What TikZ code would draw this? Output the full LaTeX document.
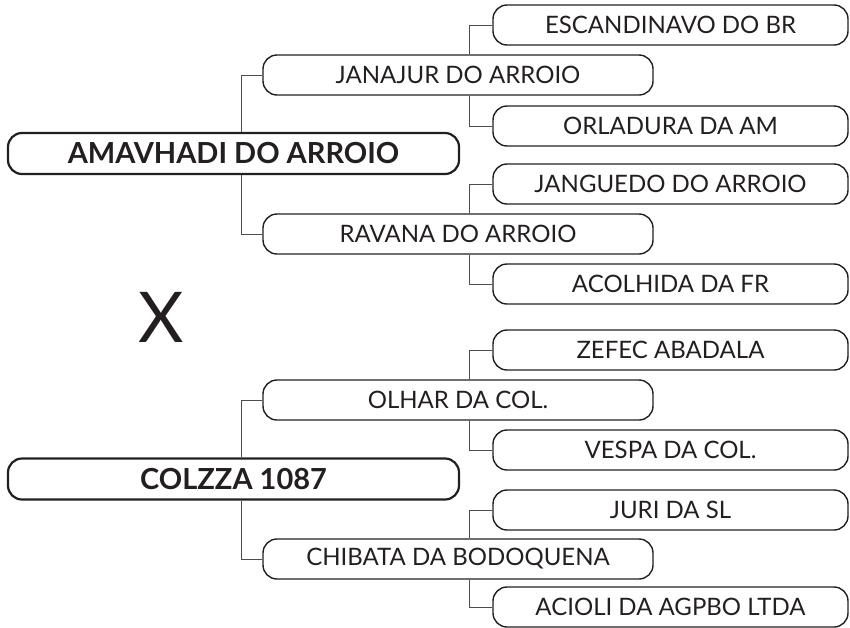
\documentclass[tikz,border=0pt]{standalone}
\usepackage{fontspec}
\setmainfont{Lato}
\usepackage{xcolor}
\usetikzlibrary{positioning}
\definecolor{ink}{HTML}{231F20}
\tikzset{
  horse/.style={draw=ink, text=ink, line width=1.4pt, rounded corners=14pt,
    minimum height=40pt, inner sep=0pt, font=\fontsize{24}{29}\selectfont},
  sire/.style={horse, minimum width=451pt, minimum height=41pt, line width=2.2pt,
    font=\bfseries\fontsize{29}{34}\selectfont},
  parent/.style={horse, minimum width=390pt},
  grand/.style={horse, minimum width=355pt},
  link/.style={draw=ink!80, line width=1pt}
}

\begin{document}
\begin{tikzpicture}[x=1pt, y=-1pt]
\useasboundingbox (0,0) rectangle (850,627);
% first animal
\node[sire] (amavhadi) at (233.5,153.5) {AMAVHADI DO ARROIO};
\node[parent] (janajur) at (458,75) {JANAJUR DO ARROIO};
\node[parent] (ravana) at (458,234) {RAVANA DO ARROIO};
\node[grand] (escandinavo) at (670.5,25) {ESCANDINAVO DO BR};
\node[grand] (orladura) at (670.5,126) {ORLADURA DA AM};
\node[grand] (janguedo) at (670.5,184) {JANGUEDO DO ARROIO};
\node[grand] (acolhida) at (670.5,284) {ACOLHIDA DA FR};
% cross
\node[text=ink, font=\fontsize{70}{70}\selectfont] (cross) at (161,317) {X};
% second animal
\node[sire] (colzza) at (233.5,479) {COLZZA 1087};
\node[parent] (olhar) at (458,400) {OLHAR DA COL.};
\node[parent] (chibata) at (458,559) {CHIBATA DA BODOQUENA};
\node[grand] (zefec) at (670.5,350) {ZEFEC ABADALA};
\node[grand] (vespa) at (670.5,450) {VESPA DA COL.};
\node[grand] (juri) at (670.5,510) {JURI DA SL};
\node[grand] (acioli) at (670.5,607) {ACIOLI DA AGPBO LTDA};
% parent links
\foreach \kid/\mom/\side/\dx in {
    janajur/amavhadi/north/7.5, ravana/amavhadi/south/7.5,
    olhar/colzza/north/7.5, chibata/colzza/south/7.5,
    escandinavo/janajur/north/11, orladura/janajur/south/11,
    janguedo/ravana/north/11, acolhida/ravana/south/11,
    zefec/olhar/north/11, vespa/olhar/south/11,
    juri/chibata/north/11, acioli/chibata/south/11}
  \draw[link] (\kid.west) -| ([xshift=\dx pt]\mom.\side);
\end{tikzpicture}
\end{document}
